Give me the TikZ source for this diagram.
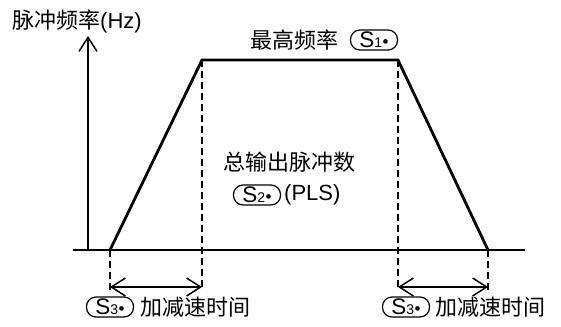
\documentclass[tikz,border=0pt]{standalone}
\usepackage{fontspec}
\setmainfont{Liberation Sans}
\newfontfamily\cjk{Noto Sans CJK SC}
\usetikzlibrary{arrows.meta}
\newcommand\sbadge[1]{S{\fontsize{14}{14}\selectfont #1}\hspace{0.5pt}{\fontsize{17}{17}\selectfont\raisebox{0.5pt}{•}}}
\begin{document}
\begin{tikzpicture}[x=1pt,y=-1pt,
  txt/.style={font=\fontsize{22}{22}\selectfont, inner sep=0pt},
  badge/.style={draw, line width=1.2pt, rounded corners=9.5pt, minimum width=47pt, minimum height=20pt, inner sep=0pt, font=\fontsize{22.5}{22.5}\selectfont},
  curve/.style={line width=2.8pt, line join=miter},
  axisline/.style={line width=1.5pt},
  dashline/.style={line width=1.5pt, dash pattern=on 7pt off 4pt},
  barb/.tip={Straight Barb[length=14pt,width=18pt,line width=1.5pt]},
  dim/.style={line width=1.5pt, barb-barb},
  axisarrow/.style={line width=1.5pt, -barb}
]
\useasboundingbox (0,0) rectangle (561,326);
% coordinates
\coordinate (o) at (88,250);
\coordinate (ytop) at (88,36);
\coordinate (xl) at (73,250);
\coordinate (xr) at (525,250);
\coordinate (p1) at (110,250);
\coordinate (p2) at (202,60);
\coordinate (p3) at (398,60);
\coordinate (p4) at (488,250);
\coordinate (d1) at (110,290);
\coordinate (d2) at (202,290);
\coordinate (d3) at (398,290);
\coordinate (d4) at (488,290);
\coordinate (a1) at (110,287);
\coordinate (a2) at (202,287);
\coordinate (a3) at (398,287);
\coordinate (a4) at (488,287);
% axes
\draw[axisline] (xl) -- (xr);
\draw[axisarrow] (o) -- (ytop);
% dashed guides
\draw[dashline] (p2) -- (d2);
\draw[dashline] (p3) -- (d3);
\draw[dashline] (p1) -- (d1);
\draw[dashline] (p4) -- (d4);
% trapezoid
\draw[curve] (p1) -- (p2) -- (p3) -- (p4);
% dimension arrows
\draw[dim] (a1) -- (a2);
\draw[dim] (a3) -- (a4);
% labels
\node[txt, anchor=west] (ylab) at (12,21) {{\cjk 脉冲频率}(Hz)};
\node[txt, anchor=west] (maxf) at (250,40) {\cjk 最高频率};
\node[badge] (s1) at (374,40) {\sbadge{1}};
\node[txt] (total) at (289,162) {\cjk 总输出脉冲数};
\node[badge] (s2) at (257,195) {\sbadge{2}};
\node[txt, anchor=west] (pls) at (284,195) {(PLS)};
\node[badge] (s3a) at (110,307) {\sbadge{3}};
\node[txt, anchor=west] (acc1) at (140,307) {\cjk 加减速时间};
\node[badge] (s3b) at (406,307) {\sbadge{3}};
\node[txt, anchor=west] (acc2) at (435,307) {\cjk 加减速时间};
\end{tikzpicture}
\end{document}
